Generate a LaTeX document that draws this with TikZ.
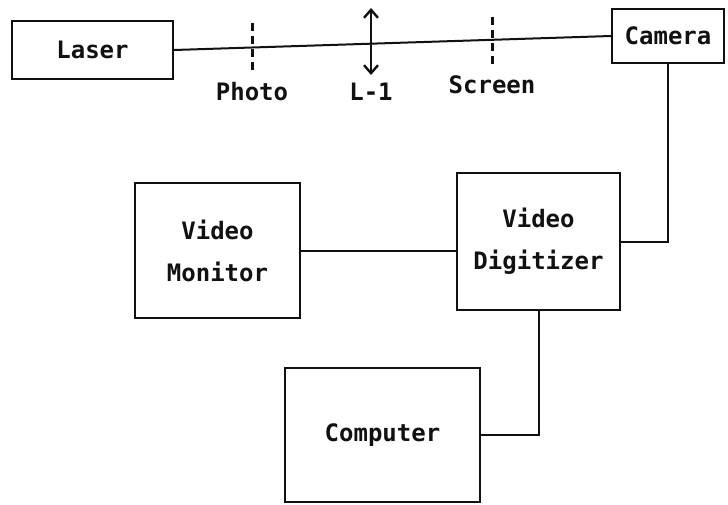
\documentclass[tikz,border=0pt]{standalone}
\usepackage{fontspec}
\usetikzlibrary{arrows.meta}
\setmonofont{DejaVu Sans Mono}
\definecolor{ink}{HTML}{111111}
\newcommand{\lbl}{\fontsize{12}{21}\selectfont\ttfamily\bfseries}

\begin{document}
\begin{tikzpicture}[x=0.5pt,y=-0.5pt,font=\lbl,ink,line width=1pt,
  unit/.style={draw,line width=1.1pt,inner sep=0,align=center},
  marker/.style={line width=1.5pt,dash pattern=on 4pt off 2.5pt}]
\useasboundingbox (0,0) rectangle (728,504);
% boxes
\node[unit,minimum width=80.5pt,minimum height=29pt] (laser) at (92.5,50) {Laser};
\node[unit,minimum width=56pt,minimum height=27pt] (camera) at (668,36) {Camera};
\node[unit,minimum width=82.5pt,minimum height=67.5pt] (monitor) at (217.5,250.5) {Video\\Monitor};
\node[unit,minimum width=81.5pt,minimum height=68.5pt] (digitizer) at (538.5,241.5) {Video\\Digitizer};
\node[unit,minimum width=97.5pt,minimum height=67pt] (computer) at (382.5,435) {Computer};
% beam and optics
\draw (laser.east) -- (camera.west);
\coordinate (photo-t) at (252,23);
\coordinate (photo-b) at (252,73);
\draw[marker] (photo-t) -- (photo-b);
\node (photo) at (252,92) {Photo};
\coordinate (lens-t) at (371,8);
\coordinate (lens-b) at (371,75);
\draw[line width=1.2pt,{Straight Barb[length=4pt,width=7pt]}-{Straight Barb[length=4pt,width=7pt]}] (lens-t) -- (lens-b);
\node (lens) at (371,92) {L-1};
\coordinate (screen-t) at (492,17);
\coordinate (screen-b) at (492,68);
\draw[marker] (screen-t) -- (screen-b);
\node (screen) at (492,85) {Screen};
% cables
\draw (camera.south) |- (digitizer.east);
\draw (monitor.east) -- (monitor.east -| digitizer.west);
\draw (digitizer.south) |- (computer.east);
\end{tikzpicture}
\end{document}
